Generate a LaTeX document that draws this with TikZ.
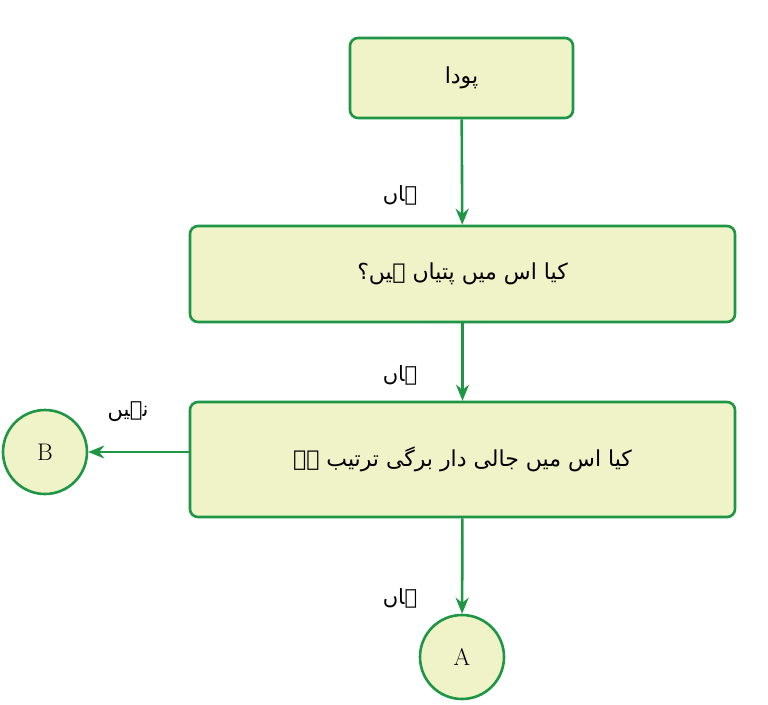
\documentclass[tikz,border=0pt]{standalone}
\usepackage{fontspec}
\usepackage{tikz}
\usetikzlibrary{arrows.meta}
\newfontfamily\urdufont[Script=Arabic]{DejaVu Sans}
\TeXXeTstate=1
\definecolor{boxgreen}{RGB}{30,150,70}
\definecolor{boxfill}{RGB}{240,242,200}
\newcommand{\ur}[1]{{\urdufont\beginR #1\endR}}
\tikzset{
  flowbox/.style={draw=boxgreen, line width=2.6pt, fill=boxfill, rounded corners=8pt, font=\fontsize{22}{26}\selectfont},
  endcirc/.style={circle, draw=boxgreen, line width=2.6pt, fill=boxfill, minimum size=84pt, inner sep=0pt, font=\fontsize{24}{28}\selectfont},
  flowarrow/.style={draw=boxgreen, line width=2.6pt, -{Stealth[length=16pt,width=13pt]}},
  answer/.style={font=\fontsize{21}{24}\selectfont}
}
\begin{document}
\begin{tikzpicture}[x=1pt,y=-1pt]
\useasboundingbox (0,0) rectangle (768,704);
\node[flowbox, minimum width=223pt, minimum height=80pt] (plant) at (461.5,78) {\ur{پودا}};
\node[flowbox, minimum width=545pt, minimum height=96pt] (leaves) at (462.5,274) {\ur{کیا اس میں پتیاں ہیں؟}};
\node[flowbox, minimum width=545pt, minimum height=115pt] (venation) at (462.5,459.5) {\ur{کیا اس میں جالی دار برگی ترتیب ہے}};
\node[endcirc] (B) at (45,452) {B};
\node[endcirc] (A) at (462,657) {A};
\draw[flowarrow] (plant) -- (leaves);
\draw[flowarrow] (leaves) -- (venation);
\draw[flowarrow] (venation) -- (A);
\draw[flowarrow] (venation.west |- B) -- (B);
\node[answer] (yes1) at (400,195) {\ur{ہاں}};
\node[answer] (yes2) at (400,375) {\ur{ہاں}};
\node[answer] (yes3) at (400,598) {\ur{ہاں}};
\node[answer] (no) at (128,412) {\ur{نہیں}};
\end{tikzpicture}
\end{document}
